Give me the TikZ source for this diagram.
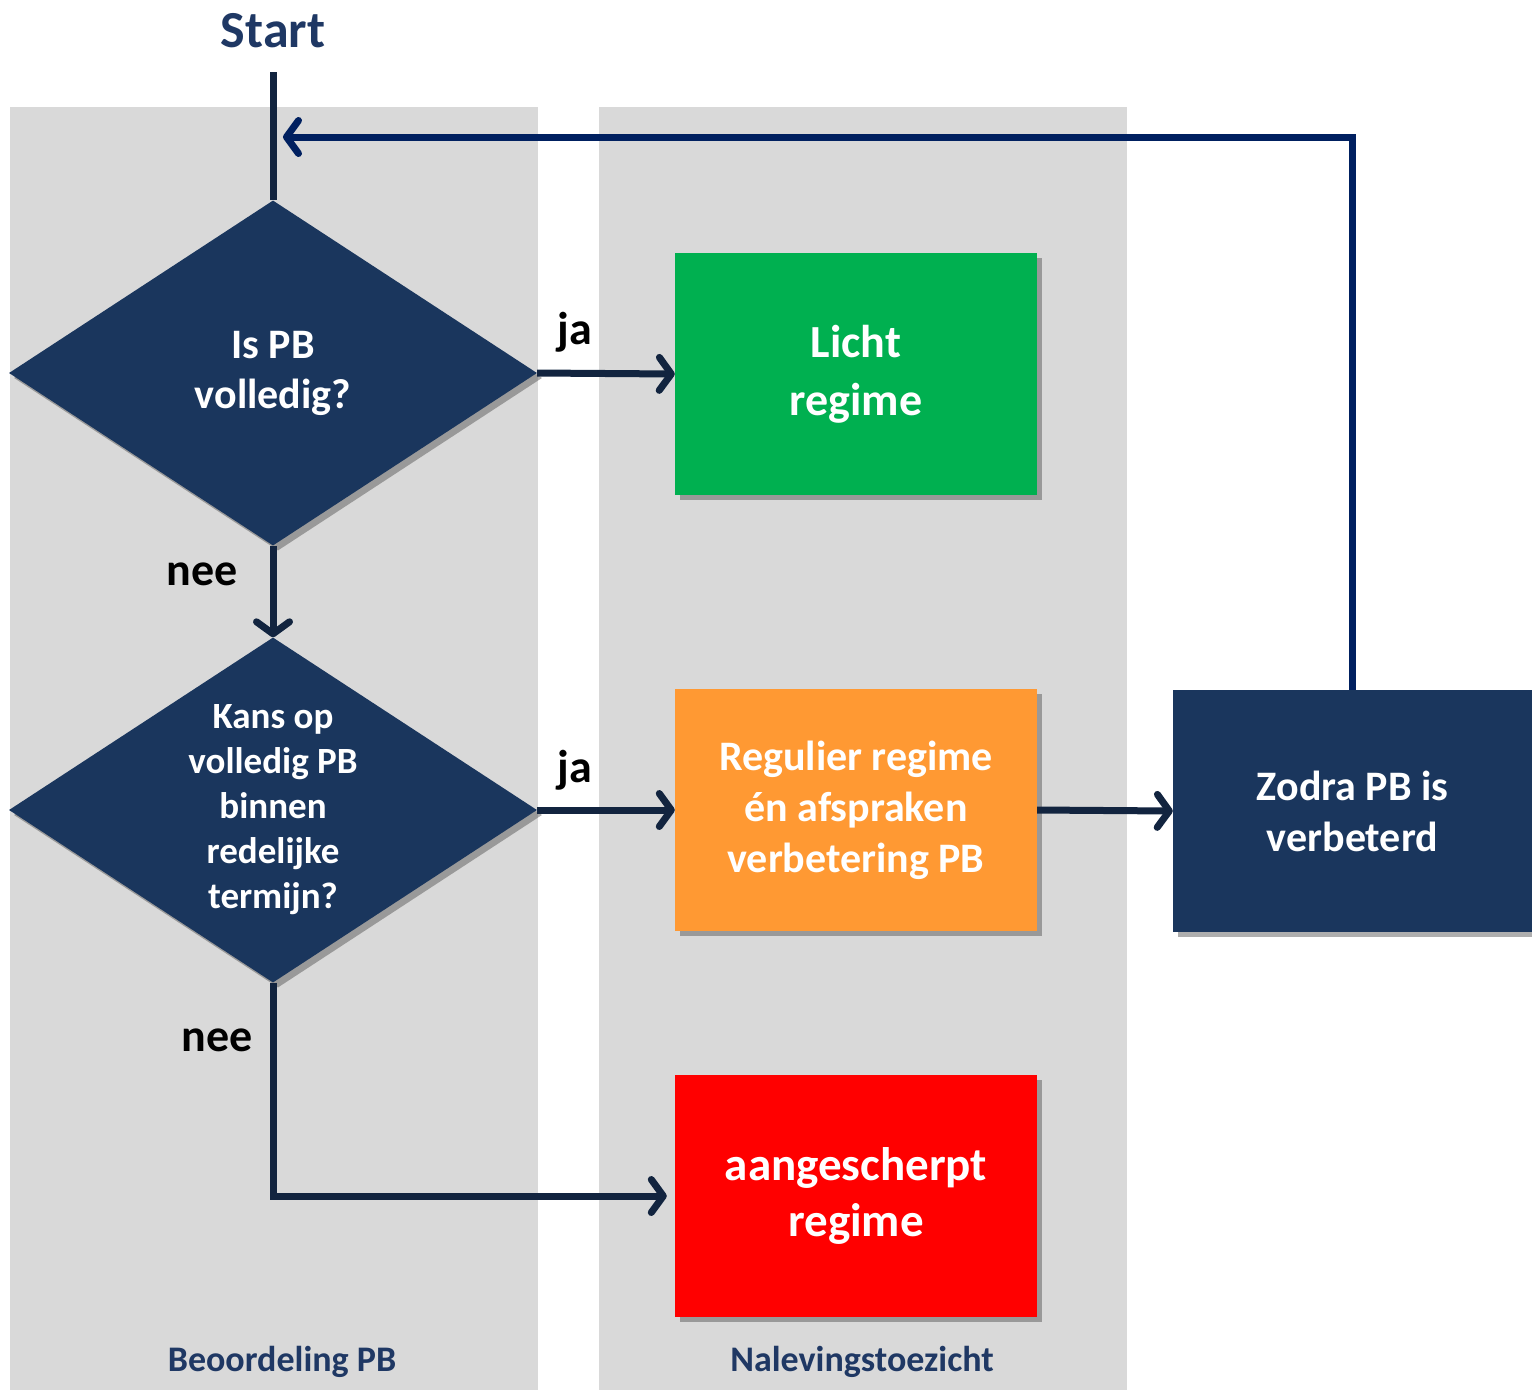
\documentclass[tikz,border=0pt]{standalone}
\usepackage{fontspec}
\setmainfont{Carlito}
\usetikzlibrary{shapes.geometric,arrows.meta,shadows}

\definecolor{navy}{RGB}{26,54,93}
\definecolor{linecol}{RGB}{18,36,63}
\definecolor{loopcol}{RGB}{0,32,96}
\definecolor{lanegray}{RGB}{217,217,217}
\definecolor{lichtgreen}{RGB}{0,176,80}
\definecolor{reguorange}{RGB}{255,153,51}
\definecolor{laneblue}{RGB}{31,56,100}

\begin{document}
\begin{tikzpicture}[x=1pt, y=-1pt,
  shadowed/.style={drop shadow={shadow xshift=5pt, shadow yshift=-5pt, opacity=0.45, fill=black!70}},
  question/.style={diamond, aspect=1.53, fill=navy, text=white, inner sep=0pt,
    minimum width=528pt, minimum height=345pt, align=center, shadowed},
  regime/.style={rectangle, text=white, minimum width=362pt, minimum height=242pt,
    inner sep=0pt, align=center, shadowed},
  flow/.style={line width=7pt, color=linecol, -{Straight Barb[length=12pt,width=33pt,round]}},
  answer/.style={font=\fontsize{46}{52}\selectfont\bfseries}]

\useasboundingbox (0,0) rectangle (1532,1390);

%------------------ LANES ------------------%
\fill[lanegray] (10,107) rectangle (538,1390);
\fill[lanegray] (599,107) rectangle (1127,1390);
\node[text=laneblue, font=\fontsize{36}{42}\selectfont\bfseries] (laneA) at (282,1362) {Beoordeling PB};
\node[text=laneblue, font=\fontsize{36}{42}\selectfont\bfseries] (laneB) at (862,1362) {Nalevingstoezicht};

%------------------ START ------------------%
\node[text=laneblue, font=\fontsize{52}{58}\selectfont\bfseries] (start) at (273,31) {Start};
\coordinate (s0) at (273,72);

%------------------ QUESTIONS ------------------%
\node[question, font=\fontsize{42}{50}\selectfont\bfseries] (d1) at (273,373)
  {Is PB\\volledig?};
\node[question, font=\fontsize{37}{45}\selectfont\bfseries] (d2) at (273,810)
  {Kans op\\volledig PB\\binnen\\redelijke\\termijn?};

%------------------ REGIMES ------------------%
\node[regime, fill=lichtgreen, font=\fontsize{46}{58}\selectfont\bfseries] (licht) at (856,374)
  {Licht\\regime};
\node[regime, fill=reguorange, font=\fontsize{42}{51}\selectfont\bfseries] (regulier) at (856,810)
  {Regulier regime\\én afspraken\\verbetering PB};
\node[regime, fill=red, font=\fontsize{47}{56}\selectfont\bfseries] (scherp) at (856,1196)
  {aangescherpt\\regime};
\node[regime, fill=navy, minimum width=359pt, font=\fontsize{42}{51}\selectfont\bfseries] (zodra) at (1352.5,811)
  {Zodra PB is\\verbeterd};

%------------------ CONNECTORS ------------------%
\draw[line width=7pt, color=linecol] (s0) -- (d1.north);
\draw[flow] (d1.east) -- (licht.west);
\draw[flow] (d1.south) -- (d2.north);
\draw[flow] (d2.east) -- (regulier.west);
\draw[flow, shorten >=8pt] (d2.south) |- (scherp.west);
\draw[flow] (regulier.east) -- (zodra.west);

% terugkoppeling
\coordinate (back) at (283,137);
\draw[flow, color=loopcol] (zodra.north) |- (back);

% labels
\node[answer] (ja1) at (575,332) {ja};
\node[answer] (nee1) at (202,574) {nee};
\node[answer] (ja2) at (575,770) {ja};
\node[answer] (nee2) at (217,1040) {nee};

\end{tikzpicture}
\end{document}
